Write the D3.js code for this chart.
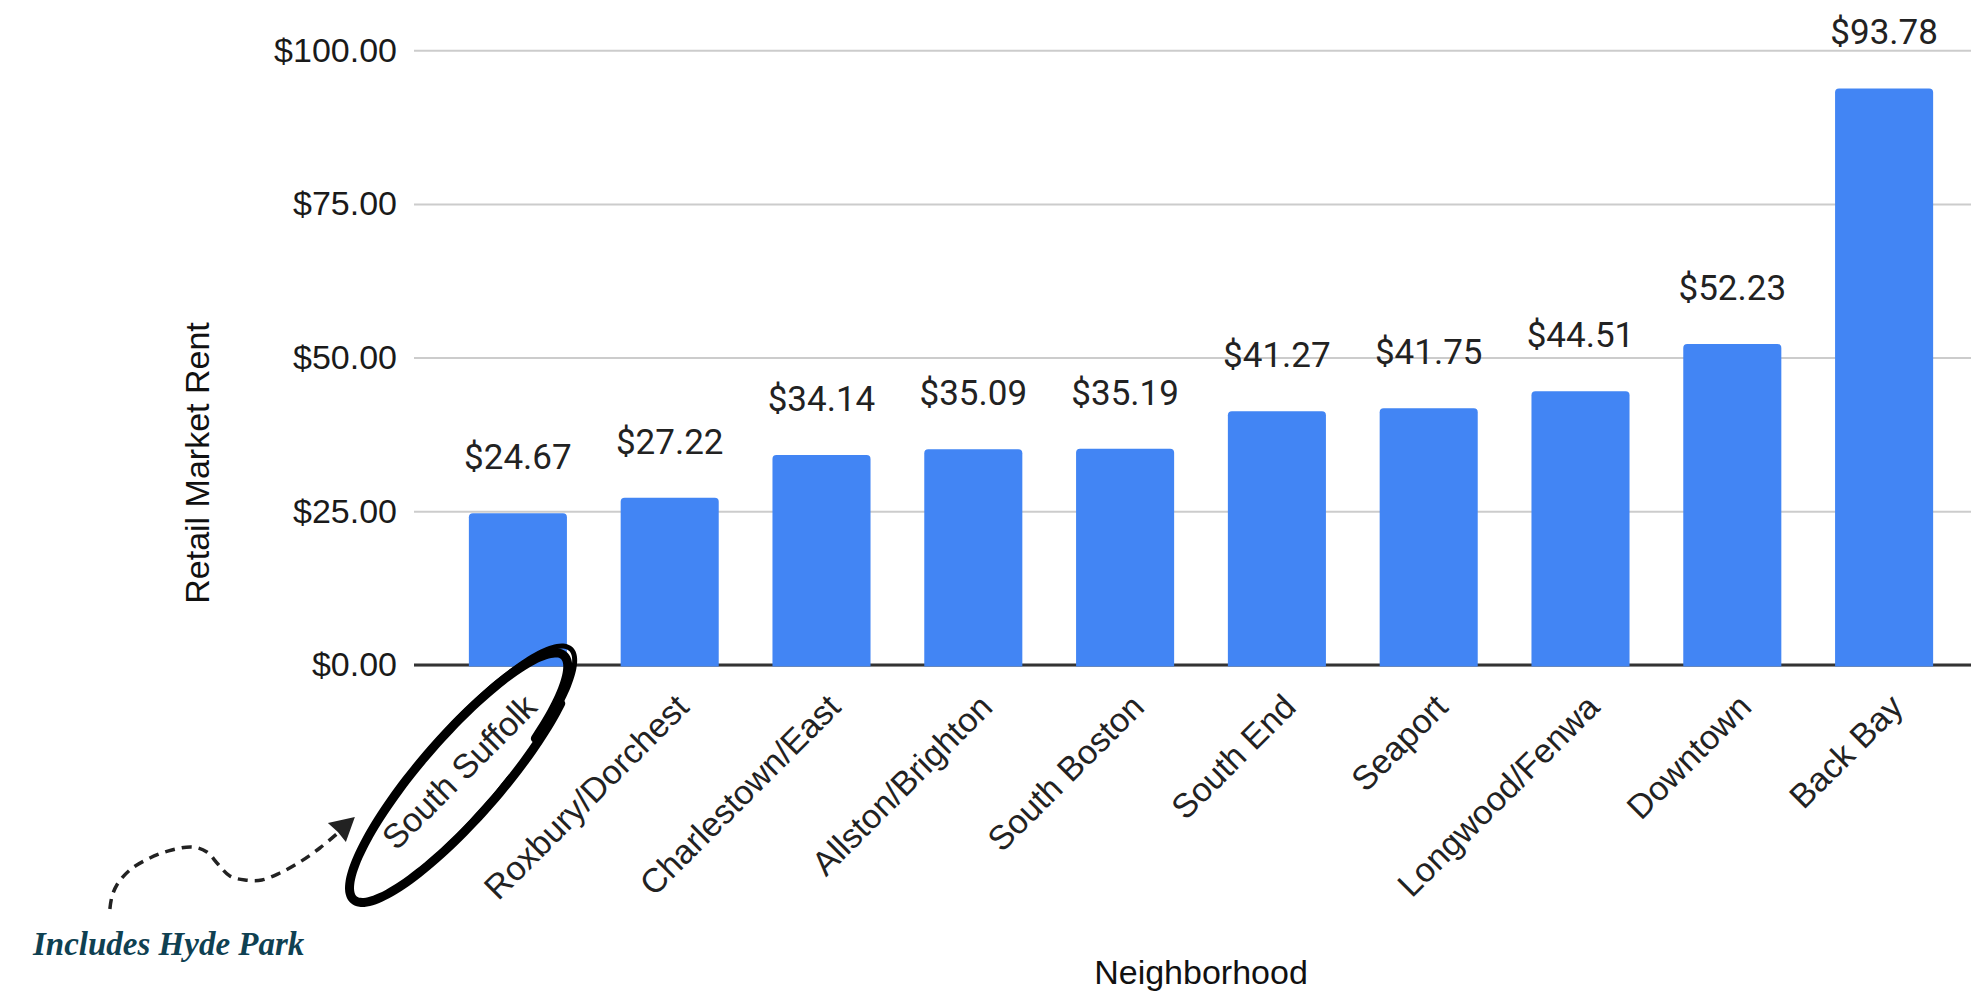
<!DOCTYPE html>
<html>
<head>
<meta charset="utf-8">
<script src="https://cdn.jsdelivr.net/npm/d3@7"></script>
<style>
  body { margin: 0; background: #fff; }
  svg { display: block; }
</style>
</head>
<body>
<script>
// chart data
var neighborhoods = ["South Suffolk", "Roxbury/Dorchest", "Charlestown/East", "Allston/Brighton",
  "South Boston", "South End", "Seaport", "Longwood/Fenwa", "Downtown", "Back Bay"];
var rents = [24.67, 27.22, 34.14, 35.09, 35.19, 41.27, 41.75, 44.51, 52.23, 93.78];
var yTicks = [0, 25, 50, 75, 100];

var W = 1971, H = 993;
var plotLeft = 414, plotRight = 1971, plotTop = 50.2, plotBottom = 665;

var svg = d3.select("body").append("svg")
    .attr("width", W)
    .attr("height", H);

// scales
var x = d3.scaleBand()
    .domain(neighborhoods)
    .range([442, 1960])
    .paddingInner(0.354)
    .paddingOuter(0.177);

var y = d3.scaleLinear()
    .domain([0, 100])
    .range([plotBottom, plotTop]);

var money = function(d) { return "$" + d.toFixed(2); };

// gridlines + y tick labels
var yAxis = svg.append("g")
    .attr("transform", "translate(" + plotLeft + ",0)")
    .call(d3.axisLeft(y)
      .tickValues(yTicks)
      .tickSize(-(plotRight - plotLeft))
      .tickPadding(17)
      .tickFormat(money));
yAxis.select(".domain").remove();
yAxis.selectAll(".tick line")
    .attr("stroke", "#cccccc")
    .attr("stroke-width", 2);
yAxis.selectAll(".tick text")
    .attr("fill", "#1a1a1a")
    .attr("dy", "0.32em")
    .style("font", "34px 'Liberation Sans', Arial, sans-serif");

// zero line
svg.append("line")
    .attr("x1", plotLeft).attr("x2", plotRight)
    .attr("y1", y(0)).attr("y2", y(0))
    .attr("stroke", "#333")
    .attr("stroke-width", 3);

// bar with rounded top corners
function barPath(x0, w, yTop, yBase, r) {
  r = Math.min(r, w / 2, yBase - yTop);
  return "M" + x0 + "," + yBase +
    "V" + (yTop + r) +
    "Q" + x0 + "," + yTop + " " + (x0 + r) + "," + yTop +
    "H" + (x0 + w - r) +
    "Q" + (x0 + w) + "," + yTop + " " + (x0 + w) + "," + (yTop + r) +
    "V" + yBase + "Z";
}

svg.append("g").selectAll("path")
    .data(rents)
    .enter().append("path")
    .attr("d", function(d, i) {
      return barPath(x(neighborhoods[i]), x.bandwidth(), y(d), y(0) + 1.5, 4);
    })
    .attr("fill", "#4285F4");

// value labels
svg.append("g").selectAll("text")
    .data(rents)
    .enter().append("text")
    .attr("x", function(d, i) { return x(neighborhoods[i]) + x.bandwidth() / 2; })
    .attr("y", function(d) { return y(d) - 44; })
    .attr("text-anchor", "middle")
    .attr("fill", "#222")
    .style("font", "35px Roboto, Arial, sans-serif")
    .text(money);

// x axis labels, slanted
var xAxis = svg.append("g")
    .attr("transform", "translate(0," + y(0) + ")")
    .call(d3.axisBottom(x).tickSize(0));
xAxis.select(".domain").remove();
xAxis.selectAll(".tick text")
    .attr("x", 0).attr("y", 0).attr("dy", null)
    .attr("transform", "translate(21,44) rotate(-45)")
    .attr("text-anchor", "end")
    .attr("fill", "#222")
    .style("font", "34px 'Liberation Sans', Arial, sans-serif");

// axis titles
svg.append("text")
    .attr("transform", "translate(209,463) rotate(-90)")
    .attr("text-anchor", "middle")
    .attr("fill", "#111")
    .style("font", "34px 'Liberation Sans', Arial, sans-serif")
    .text("Retail Market Rent");

svg.append("text")
    .attr("x", 1201).attr("y", 984)
    .attr("text-anchor", "middle")
    .attr("fill", "#111")
    .style("font", "34px 'Liberation Sans', Arial, sans-serif")
    .text("Neighborhood");

// ---- annotation: hand drawn loop around South Suffolk ----
var ax = x("South Suffolk"), ay = y(0);
var ec = [ax - 6, ay + 109], ea = 160, eb = 39, th = -49 * Math.PI / 180;
var u = [Math.cos(th), Math.sin(th)], v = [-Math.sin(th), Math.cos(th)];

function loopPoints(t0, sweep, k0, k1, n) {
  var pts = [];
  for (var i = 0; i <= n; i++) {
    var s = i / n;
    var t = t0 - s * sweep;
    var k = k0 + (k1 - k0) * s + 0.06 * Math.sin(Math.PI * s);
    var a = ea * k * Math.cos(t), b = eb * k * Math.sin(t);
    pts.push([ec[0] + a * u[0] + b * v[0], ec[1] + a * u[1] + b * v[1]]);
  }
  return pts;
}

var loopLine = d3.line().curve(d3.curveBasis);

svg.append("path")
    .attr("d", loopLine(loopPoints(60 * Math.PI / 180, 376 * Math.PI / 180, 0.93, 1.02, 80)))
    .attr("fill", "none")
    .attr("stroke", "#000")
    .attr("stroke-width", 9)
    .attr("stroke-linecap", "round");
svg.append("path")
    .attr("d", loopLine(loopPoints(50 * Math.PI / 180, 330 * Math.PI / 180, 1.01, 0.98, 80)))
    .attr("fill", "none")
    .attr("stroke", "#000")
    .attr("stroke-width", 5)
    .attr("stroke-linecap", "round");

// dashed arrow
var arrowPts = [[-359, 244], [-357, 232], [-352, 220], [-339, 205], [-319, 193], [-297, 185],
  [-276, 182], [-262, 187], [-251, 199], [-239, 211], [-224, 215], [-207, 215],
  [-189, 208], [-169, 197], [-149, 183], [-131, 168]];
svg.append("path")
    .attr("d", d3.line().curve(d3.curveCatmullRom)(arrowPts.map(function(p) { return [ax + p[0], ay + p[1]]; })))
    .attr("fill", "none")
    .attr("stroke", "#222")
    .attr("stroke-width", 3.5)
    .attr("stroke-dasharray", "10,7");

var head = [[-114, 152], [-141, 158], [-131, 167], [-123, 177]];
svg.append("path")
    .attr("d", "M" + head.map(function(p) { return (ax + p[0]) + "," + (ay + p[1]); }).join("L") + "Z")
    .attr("fill", "#222");

svg.append("text")
    .attr("x", 33).attr("y", 955)
    .attr("fill", "#0f4152")
    .style("font", "italic bold 33px 'Liberation Serif', 'DejaVu Serif', serif")
    .text("Includes Hyde Park");
</script>
</body>
</html>
